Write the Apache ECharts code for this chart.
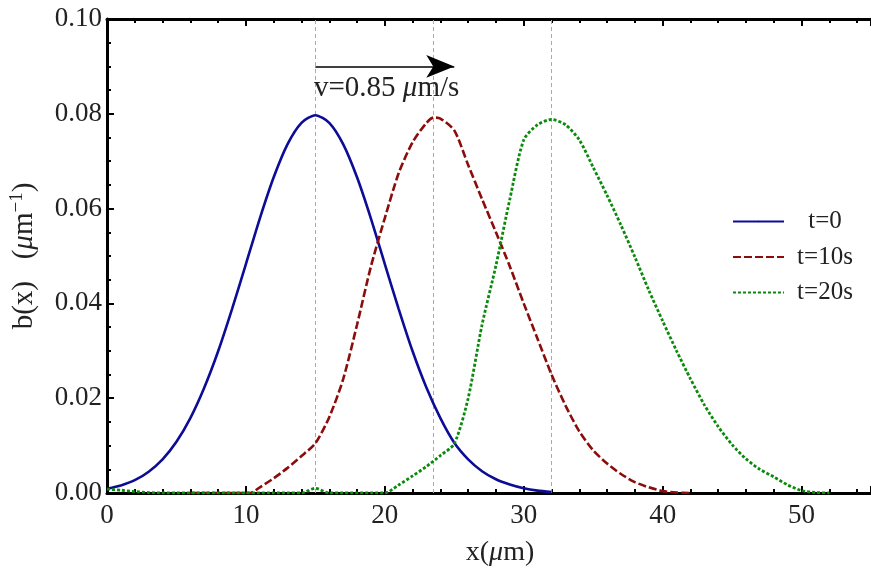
<!DOCTYPE html>
<html>
<head>
<meta charset="utf-8">
<script src="https://cdn.jsdelivr.net/npm/echarts@6/dist/echarts.min.js"></script>
<style>
  html, body { margin: 0; padding: 0; background: #ffffff; }
  #chart { width: 871px; height: 572px; }
</style>
</head>
<body>
<div id="chart"></div>
<script>
// Density profiles b(x) at three times
const seriesNames = ['t=0', 't=10s', 't=20s'];

const blueX = [0,1,2,3,4,5,6,7,8,9,10,11,12,13,14,15,16,17,18,19,20,21,22,23,24,25,26,27,28,29,30,31,32];
const blueY = [0.0009,0.0016,0.0027,0.0045,0.0071,0.0108,0.0158,0.0222,0.0299,0.0388,0.0483,0.0579,0.0666,0.0736,0.0781,0.0797,
               0.0781,0.0736,0.0666,0.0579,0.0483,0.0388,0.0299,0.0222,0.0158,0.0106,0.0071,0.0046,0.0029,0.0018,0.0010,0.0005,0.0002];

const redX = [6,7,8,9,10,10.3,11,12,13,14,15,16,17,18,19,20,21,22,23,23.5,24,25,26,27,28,29,30,31,32,33,34,35,36,37,38,39,40,41,42];
const redY = [0,0,0,0,0,0,0.0012,0.0031,0.0053,0.0078,0.0105,0.0160,0.0240,0.0355,0.0478,0.0580,0.0675,0.0740,0.0781,0.0792,
              0.0790,0.0765,0.0692,0.0620,0.0550,0.0478,0.0400,0.0325,0.0250,0.0185,0.0130,0.0090,0.0062,0.0040,0.0023,0.0012,0.0004,0.0001,0];

const greenX = [0,1,2,3,4,5,6,7,8,9,10,11,12,13,14,15,16,17,18,19,20,21,22,23,24,25,26,27,28,29,30,31,32,33,34,35,36,37,38,39,40,
                41,42,43,44,45,46,47,48,49,50,51,52];
const greenY = [0.0008,0.0006,0.0003,0.0001,0,0,0,0,0,0,0,0,0,0,0,0.0010,0,0,0,0,0,0.0017,0.0036,0.0056,0.0079,0.0104,
                0.0200,0.0355,0.0480,0.0620,0.0745,0.0777,0.0788,0.0777,0.0745,0.0687,0.0628,0.0565,0.0498,0.0428,0.0363,
                0.0300,0.0241,0.0186,0.0140,0.0102,0.0072,0.0050,0.0034,0.0017,0.0005,0.0001,0];

// Reference positions of the peaks (x = 15 + v t)
const peakLines = [15, 23.5, 32];
// Velocity arrow endpoints
const arrowX = [15, 25];
const arrowY = 0.09;

const xTicks = { min: 0, max: 55, interval: 10 };
const yTicks = { min: 0, max: 0.1, interval: 0.02 };

const FONT = '"Liberation Serif", "DejaVu Serif", serif';
const colors = ['#0c0c96', '#8c0c0c', '#0a8a0a'];

function pairs(xs, ys) { return xs.map((x, i) => [x, ys[i]]); }

const chart = echarts.init(document.getElementById('chart'), null, { renderer: 'canvas' });

const axisBase = {
  axisLine: { show: true, onZero: false, lineStyle: { color: '#000', width: 3 } },
  axisTick: { show: true, inside: true, length: 7, lineStyle: { color: '#000', width: 2 } },
  minorTick: { show: true, length: 4, lineStyle: { color: '#000', width: 2 } },
  splitLine: { show: false }
};

chart.setOption({
  animation: false,
  backgroundColor: '#ffffff',
  grid: { left: 105, top: 19, width: 770, height: 475, containLabel: false },
  xAxis: [
    Object.assign({}, axisBase, {
      type: 'value', position: 'bottom',
      min: xTicks.min, max: xTicks.max, interval: xTicks.interval,
      minorTick: Object.assign({}, axisBase.minorTick, { splitNumber: 5 }),
      axisLabel: { color: '#222', fontFamily: FONT, fontSize: 27, margin: 9, showMaxLabel: false },
      name: 'x({i|μ}m)',
      nameLocation: 'middle',
      nameGap: 46,
      nameTextStyle: {
        color: '#222', fontFamily: FONT, fontSize: 28, padding: [0, 0, 0, 22],
        rich: { i: { fontFamily: FONT, fontStyle: 'italic', fontSize: 28, color: '#222' } }
      }
    }),
    Object.assign({}, axisBase, {
      type: 'value', position: 'top',
      min: xTicks.min, max: xTicks.max, interval: xTicks.interval,
      minorTick: Object.assign({}, axisBase.minorTick, { splitNumber: 5 }),
      axisLabel: { show: false }
    })
  ],
  yAxis: Object.assign({}, axisBase, {
    type: 'value',
    min: yTicks.min, max: yTicks.max, interval: yTicks.interval,
    minorTick: Object.assign({}, axisBase.minorTick, { splitNumber: 4 }),
    axisLabel: {
      color: '#222', fontFamily: FONT, fontSize: 27, margin: 5,
      formatter: v => v.toFixed(2)
    },
    name: '{n|b(x)   (}{i|μ}{n|m}{s|−1}{n|)}',
    nameLocation: 'middle',
    nameRotate: 90,
    nameGap: 66,
    nameTextStyle: {
      rich: {
        n: { fontFamily: FONT, fontSize: 29, color: '#222' },
        i: { fontFamily: FONT, fontSize: 29, fontStyle: 'italic', color: '#222' },
        s: { fontFamily: FONT, fontSize: 19, color: '#222', padding: [0, 0, 14, 0] }
      }
    }
  }),
  legend: {
    orient: 'vertical',
    left: 732, top: 209,
    itemWidth: 51, itemHeight: 2, itemGap: 10.5,
    data: seriesNames,
    formatter: name => '{c|' + name + '}',
    textStyle: {
      color: '#222', fontFamily: FONT, fontSize: 25,
      rich: { c: { width: 72, align: 'center', fontFamily: FONT, fontSize: 25, color: '#222' } }
    },
    padding: 0
  },
  graphic: [
    {
      type: 'text', left: 314, top: 74, z: 10,
      style: {
        text: '{n|v=0.85 }{i|μ}{n|m/s}',
        rich: {
          n: { fontFamily: FONT, fontSize: 29, fill: '#222' },
          i: { fontFamily: FONT, fontSize: 29, fontStyle: 'italic', fill: '#222' }
        }
      }
    }
  ],
  series: [
    {
      name: seriesNames[0], type: 'line', data: pairs(blueX, blueY),
      symbol: 'none', smooth: 0.25, z: 3,
      lineStyle: { color: colors[0], width: 2.6, type: 'solid' },
      itemStyle: { color: colors[0] },
      markLine: {
        silent: true, symbol: ['none', 'none'], z: 1,
        label: { show: false },
        lineStyle: { color: '#aaaaaa', width: 1, type: [4, 3] },
        data: peakLines.map(v => ({ xAxis: v }))
      }
    },
    {
      name: seriesNames[1], type: 'line', data: pairs(redX, redY),
      symbol: 'none', smooth: 0.25, z: 4,
      lineStyle: { color: colors[1], width: 2.6, type: [8, 3] },
      itemStyle: { color: colors[1] }
    },
    {
      name: seriesNames[2], type: 'line', data: pairs(greenX, greenY),
      symbol: 'none', smooth: 0.25, z: 5,
      lineStyle: { color: colors[2], width: 2.8, type: [3, 2] },
      itemStyle: { color: colors[2] }
    },
    {
      name: 'velocity', type: 'line', data: [],
      markLine: {
        silent: true,
        symbol: ['none', 'arrow'],
        symbolSize: [17, 28],
        label: { show: false },
        lineStyle: { color: '#000', width: 1.5, type: 'solid' },
        itemStyle: { color: '#000' },
        data: [[{ coord: [arrowX[0], arrowY] }, { coord: [arrowX[1], arrowY] }]]
      }
    }
  ]
});
</script>
</body>
</html>
